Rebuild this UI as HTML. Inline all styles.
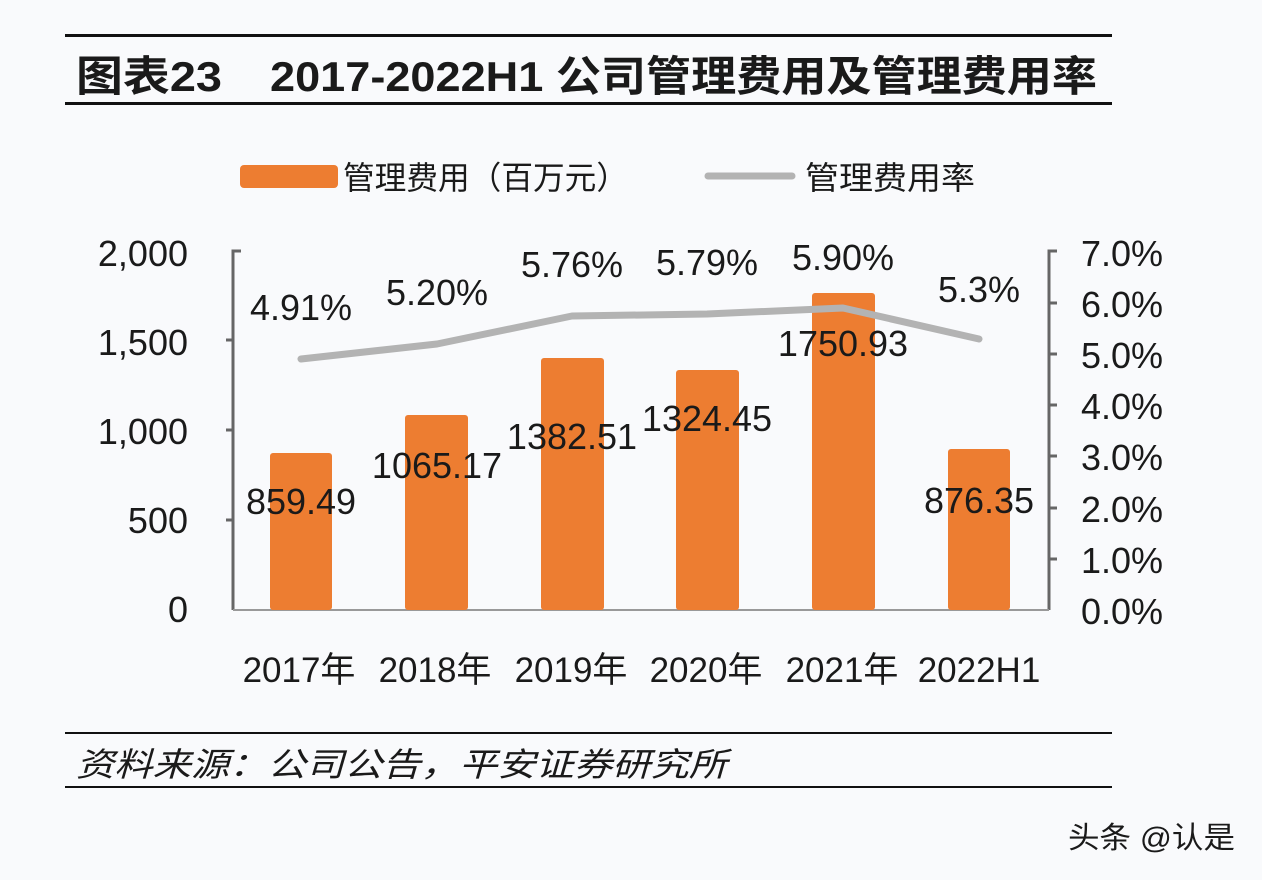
<!DOCTYPE html>
<html><head><meta charset="utf-8"><style>
html,body{margin:0;padding:0;background:#f9fafc;}
svg{display:block}
text{font-family:"Liberation Sans","Noto Sans CJK SC",sans-serif;fill:#1a1a1a}
</style></head><body>
<svg width="1262" height="880" viewBox="0 0 1262 880" xmlns="http://www.w3.org/2000/svg">
<rect width="1262" height="880" fill="#f9fafc"/>
<rect x="65" y="34" width="1047" height="3" fill="#111"/>
<text x="76" y="91" font-size="42" font-weight="bold" textLength="146" lengthAdjust="spacingAndGlyphs">图表23</text>
<text x="270" y="91" font-size="42" font-weight="bold" textLength="827" lengthAdjust="spacingAndGlyphs">2017-2022H1 公司管理费用及管理费用率</text>
<rect x="65" y="102" width="1047" height="3" fill="#111"/>
<!-- legend -->
<rect x="240" y="165" width="98" height="23" rx="4" fill="#ed7d31"/>
<text x="343" y="189" font-size="32" fill="#222" textLength="285" lengthAdjust="spacingAndGlyphs">管理费用（百万元）</text>
<line x1="708" y1="176" x2="792" y2="176" stroke="#b3b3b3" stroke-width="7" stroke-linecap="round"/>
<text x="805" y="189" font-size="32" textLength="170" lengthAdjust="spacingAndGlyphs">管理费用率</text>
<!-- axes -->
<g stroke="#666" stroke-width="3" fill="none">
<polyline points="241,251 233,251 233,610"/>
<line x1="226" y1="340" x2="233" y2="340"/><line x1="226" y1="430" x2="233" y2="430"/><line x1="226" y1="520" x2="233" y2="520"/>
<polyline points="1057,251 1049,251 1049,610"/>
<line x1="1049" y1="303" x2="1057" y2="303"/><line x1="1049" y1="354" x2="1057" y2="354"/><line x1="1049" y1="405" x2="1057" y2="405"/><line x1="1049" y1="456" x2="1057" y2="456"/><line x1="1049" y1="508" x2="1057" y2="508"/><line x1="1049" y1="559" x2="1057" y2="559"/>
</g>
<line x1="233" y1="610" x2="1049" y2="610" stroke="#999" stroke-width="2"/>
<g font-size="36" text-anchor="end">
<text x="188" y="266">2,000</text><text x="188" y="355">1,500</text><text x="188" y="444">1,000</text><text x="188" y="533">500</text><text x="188" y="622">0</text>
</g>
<g font-size="36">
<text x="1081" y="266">7.0%</text><text x="1081" y="317">6.0%</text><text x="1081" y="368">5.0%</text><text x="1081" y="419">4.0%</text><text x="1081" y="470">3.0%</text><text x="1081" y="522">2.0%</text><text x="1081" y="573">1.0%</text><text x="1081" y="624">0.0%</text>
</g>
<!-- bars -->
<g fill="#ed7d31">
<rect x="270" y="453" width="62" height="157" rx="3"/>
<rect x="405" y="415" width="63" height="195" rx="3"/>
<rect x="541" y="358" width="63" height="252" rx="3"/>
<rect x="676" y="370" width="63" height="240" rx="3"/>
<rect x="812" y="293" width="63" height="317" rx="3"/>
<rect x="948" y="449" width="62" height="161" rx="3"/>
</g>
<polyline points="301,359 437,344 572,316 707,314 843,308 979,339" fill="none" stroke="#b3b3b3" stroke-width="7" stroke-linecap="round" stroke-linejoin="round"/>
<g font-size="36" text-anchor="middle">
<text x="301" y="514">859.49</text>
<text x="437" y="478">1065.17</text>
<text x="572" y="449">1382.51</text>
<text x="707" y="431">1324.45</text>
<text x="843" y="356">1750.93</text>
<text x="979" y="513">876.35</text>
<text x="301" y="320">4.91%</text>
<text x="437" y="305">5.20%</text>
<text x="572" y="277">5.76%</text>
<text x="707" y="275">5.79%</text>
<text x="843" y="270">5.90%</text>
<text x="979" y="302">5.3%</text>
</g>
<g font-size="35" text-anchor="middle">
<text x="299" y="682">2017年</text><text x="435" y="682">2018年</text><text x="571" y="682">2019年</text><text x="706" y="682">2020年</text><text x="842" y="682">2021年</text><text x="979" y="682">2022H1</text>
</g>
<rect x="65" y="732" width="1047" height="2" fill="#111"/>
<text x="76" y="776" font-size="33" font-style="italic" textLength="651" lengthAdjust="spacingAndGlyphs">资料来源：公司公告，平安证券研究所</text>
<rect x="65" y="786" width="1047" height="2" fill="#111"/>
<text x="1068" y="848" font-size="30" fill="#222" textLength="167" lengthAdjust="spacingAndGlyphs">头条 @认是</text>
</svg>
</body></html>
